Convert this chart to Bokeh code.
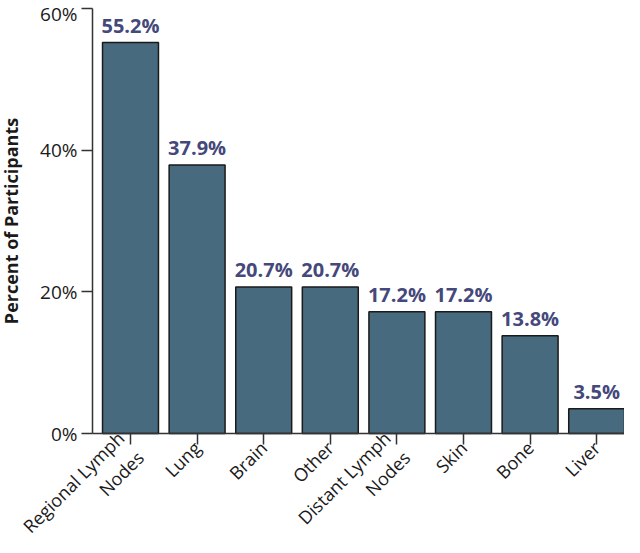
from bokeh.plotting import figure
from bokeh.models import Range1d, FixedTicker, ColumnDataSource
from bokeh.core.properties import value
from bokeh.embed import file_html
from bokeh.resources import INLINE
import math

categories = ["Regional Lymph\nNodes", "Lung", "Brain", "Other",
              "Distant Lymph\nNodes", "Skin", "Bone", "Liver"]
percents = [55.2, 37.9, 20.7, 20.7, 17.2, 17.2, 13.8, 3.5]
bar_labels = [f"{v:.1f}%" for v in percents]
y_ticks = [0, 20, 40, 60]
y_tick_labels = {0: "0%", 20: "20%", 40: "40%", 60: "60%"}

FONT = "Open Sans"
BAR = "#476a7e"
LABEL = "#45487a"
INK = "#1a1a1a"
AXIS = "#333333"

# layout (pixels on the canvas)
W, H = 624, 537
PX_PER_CAT = 66.6
FIRST_CENTER = 130
AXIS_X = 92
TOP_Y, ZERO_Y = 8, 433
Y_MAX = 60

positions = list(range(len(categories)))
x_start = -FIRST_CENTER / PX_PER_CAT
x_end = x_start + W / PX_PER_CAT
x_axis_at = x_start + AXIS_X / PX_PER_CAT
px_per_pct = (ZERO_Y - TOP_Y) / Y_MAX
y_end = Y_MAX + TOP_Y / px_per_pct
y_start = -(H - ZERO_Y) / px_per_pct

src = ColumnDataSource(dict(x=positions, val=percents, lab=bar_labels))

p = figure(width=W, height=H, output_backend="svg", toolbar_location=None,
           x_range=Range1d(x_start, x_end), y_range=Range1d(y_start, y_end),
           min_border=0)
p.outline_line_color = None
p.grid.visible = False

p.vbar(x="x", top="val", bottom=0, width=0.84, source=src, fill_color=BAR,
       line_color=INK, line_width=1.5)
p.text(x="x", y="val", text="lab", source=src, text_align="center",
       text_baseline="bottom", y_offset=-4, text_font=value(FONT),
       text_font_style="bold", text_font_size="20px", text_color=LABEL)

ya = p.yaxis[0]
ya.fixed_location = x_axis_at
ya.bounds = (0, Y_MAX)
ya.ticker = FixedTicker(ticks=y_ticks)
ya.major_label_overrides = y_tick_labels
ya.minor_tick_line_color = None
ya.major_tick_in = 0
ya.major_tick_out = 11
ya.major_label_standoff = 4
ya.axis_label = "Percent of Participants"
ya.axis_label_text_font = FONT
ya.axis_label_text_font_style = "bold"
ya.axis_label_text_font_size = "18px"
ya.axis_label_text_color = INK
ya.axis_label_standoff = 14
ya.major_label_text_font = FONT
ya.major_label_text_font_size = "19px"
ya.major_label_text_color = INK
ya.axis_line_color = AXIS
ya.axis_line_width = 1.5
ya.major_tick_line_color = AXIS
ya.major_tick_line_width = 1.5

xa = p.xaxis[0]
xa.fixed_location = 0
xa.bounds = (x_axis_at, x_end)
xa.ticker = FixedTicker(ticks=positions)
xa.major_label_overrides = dict(zip(positions, categories))
xa.minor_tick_line_color = None
xa.major_tick_in = 0
xa.major_tick_out = 11
xa.major_label_standoff = 0
xa.major_label_orientation = math.pi / 4
xa.major_label_text_font = FONT
xa.major_label_text_font_size = "18px"
xa.major_label_text_line_height = 1.15
xa.major_label_text_color = INK
xa.axis_line_color = AXIS
xa.axis_line_width = 1.5
xa.major_tick_line_color = AXIS
xa.major_tick_line_width = 1.5

open("out.html", "w").write(file_html(p, INLINE))
